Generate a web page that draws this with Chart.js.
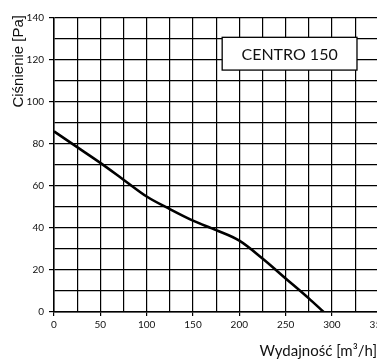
<!DOCTYPE html>
<html>
<head>
<meta charset="utf-8">
<script src="https://cdn.jsdelivr.net/npm/chart.js@4/dist/chart.umd.min.js"></script>
<style>
  html, body { margin: 0; padding: 0; background: #fff; overflow: hidden; }
  #wrap { width: 390px; height: 360px; }
</style>
</head>
<body>
<div id="wrap"><canvas id="fanChart" width="390" height="360"></canvas></div>
<script>
// flow [m3/h] and pressure [Pa]
const flow = [0, 25, 50, 75, 100, 125, 150, 175, 200, 225, 250, 275, 291];
const pressure = [86, 78.5, 71, 63, 55, 49, 43.5, 39, 34, 25.5, 16, 6.5, 0];
const xTicks = [0, 50, 100, 150, 200, 250, 300, 350];
const yTicks = [0, 20, 40, 60, 80, 100, 120, 140];
const modelName = 'CENTRO 150';
const xTitle = 'Wydajność [m³/h]';
const yTitle = 'Ciśnienie [Pa]';
// label box corners in data units
const boxX = [181.5, 327];
const boxY = [115.2, 130.8];

const tickFont = { family: 'Lato', size: 10 };

// white box with model name, placed through the scales, plus axis titles
const labelBox = {
    id: 'labelBox',
    afterDatasetsDraw(chart) {
        const { ctx, scales } = chart;
        const x1 = scales.x.getPixelForValue(boxX[0]);
        const x2 = scales.x.getPixelForValue(boxX[1]);
        const y1 = scales.y.getPixelForValue(boxY[1]);
        const y2 = scales.y.getPixelForValue(boxY[0]);
        ctx.save();
        ctx.fillStyle = '#fff';
        ctx.fillRect(x1, y1, x2 - x1, y2 - y1);
        ctx.strokeStyle = '#000';
        ctx.lineWidth = 1.3;
        ctx.strokeRect(x1, y1, x2 - x1, y2 - y1);
        ctx.fillStyle = '#111';
        ctx.font = '16px Lato';
        ctx.textAlign = 'center';
        ctx.textBaseline = 'middle';
        ctx.fillText(modelName, (x1 + x2) / 2, (y1 + y2) / 2 + 1);
        ctx.restore();
    },
    afterDraw(chart) {
        const ctx = chart.ctx;
        ctx.save();
        ctx.fillStyle = '#111';
        // x title, right aligned to the window edge
        ctx.font = '15px Lato';
        ctx.textAlign = 'right';
        ctx.textBaseline = 'alphabetic';
        ctx.fillText(xTitle, 377, 356);
        // y title, rotated
        ctx.translate(23, 15);
        ctx.rotate(-Math.PI / 2);
        ctx.font = '15px "Liberation Sans"';
        ctx.textAlign = 'right';
        ctx.fillText(yTitle, 0, 0);
        ctx.restore();
    }
};

document.addEventListener('DOMContentLoaded', function() {
    const ctx = document.getElementById('fanChart').getContext('2d');
    new Chart(ctx, {
        type: 'scatter',
        data: {
            datasets: [{
                data: flow.map((f, i) => ({ x: f, y: pressure[i] })),
                showLine: true,
                borderColor: '#000',
                borderWidth: 2.6,
                pointRadius: 0,
                cubicInterpolationMode: 'monotone',
                fill: false
            }]
        },
        options: {
            responsive: false,
            animation: false,
            layout: { padding: { top: 18, right: 9, left: 0, bottom: 0 } },
            plugins: {
                legend: { display: false },
                tooltip: { enabled: false }
            },
            scales: {
                x: {
                    type: 'linear',
                    min: 0,
                    max: 350,
                    afterBuildTicks: s => { s.ticks = []; for (let v = 0; v <= 350; v += 25) s.ticks.push({ value: v }); },
                    afterFit: s => { s.height = 48; },
                    ticks: {
                        color: '#111',
                        font: tickFont,
                        padding: 3,
                        maxRotation: 0,
                        autoSkip: false,
                        callback: v => xTicks.includes(v) ? String(v) : ''
                    },
                    grid: {
                        color: '#000',
                        lineWidth: 1.2,
                        tickLength: 4,
                        tickColor: c => xTicks.includes(c.tick && c.tick.value) ? '#000' : 'rgba(0,0,0,0)'
                    },
                    border: { color: '#000', width: 1.5 }
                },
                y: {
                    min: 0,
                    max: 140,
                    afterBuildTicks: s => { s.ticks = []; for (let v = 0; v <= 140; v += 10) s.ticks.push({ value: v }); },
                    afterFit: s => { s.width = 54; },
                    ticks: {
                        color: '#111',
                        font: tickFont,
                        padding: 5,
                        autoSkip: false,
                        callback: v => yTicks.includes(v) ? String(v) : ''
                    },
                    grid: {
                        color: '#000',
                        lineWidth: 1.2,
                        tickLength: 5,
                        tickColor: c => yTicks.includes(c.tick && c.tick.value) ? '#000' : 'rgba(0,0,0,0)'
                    },
                    border: { color: '#000', width: 1.5 }
                }
            }
        },
        plugins: [labelBox]
    });
});
</script>
</body>
</html>
